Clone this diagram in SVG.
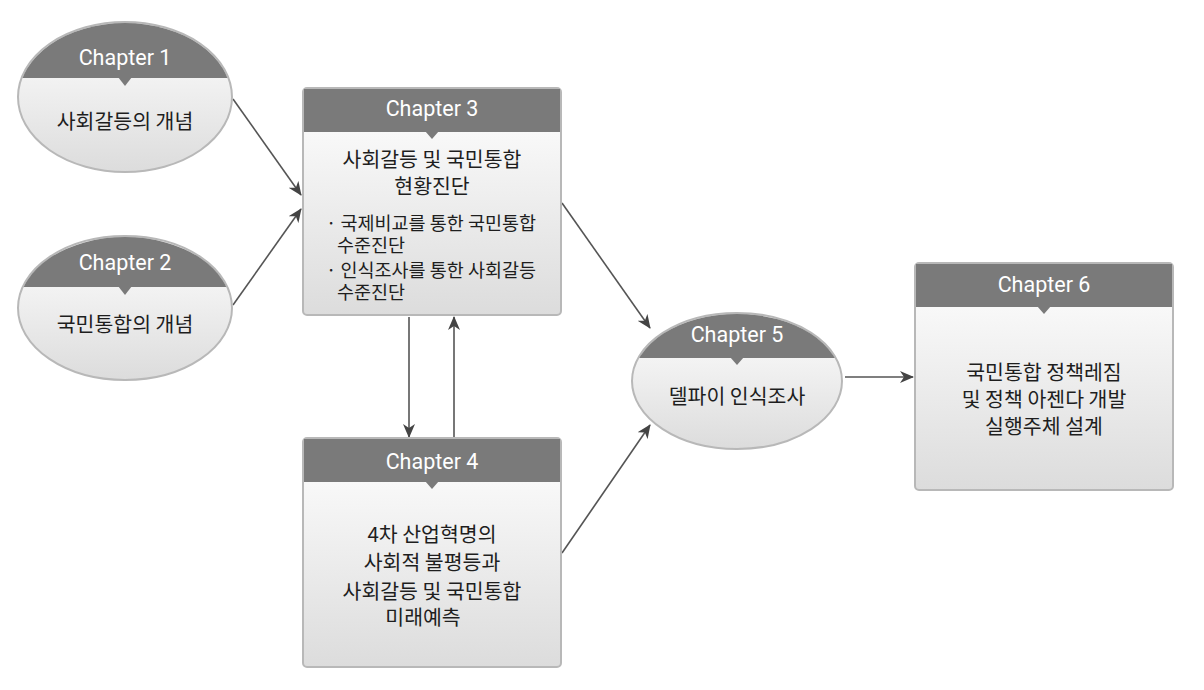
<svg xmlns="http://www.w3.org/2000/svg" width="1204" height="690" viewBox="0 0 1204 690">
<style>
.hdr{fill:#7a7a7a}
.body{fill:url(#bg);stroke:#b8b8b8;stroke-width:2}
.chap{font-family:Roboto,"Liberation Sans",sans-serif;font-size:21.5px;fill:#fff;text-anchor:middle}
.kr{font-family:"Noto Sans CJK KR","Noto Sans",sans-serif;font-size:20.5px;fill:#1e1e1e;text-anchor:middle}
.krl{font-family:"Noto Sans CJK KR","Noto Sans",sans-serif;font-size:18.5px;fill:#1e1e1e}
.con line{stroke:#555;stroke-width:1.6;fill:none;marker-end:url(#arr)}
</style>
<defs>
<linearGradient id="bg" x1="0" y1="0" x2="0" y2="1">
<stop offset="0" stop-color="#ffffff"/>
<stop offset="1" stop-color="#dcdcdc"/>
</linearGradient>
<marker id="arr" viewBox="0 0 14 12" refX="13" refY="6" markerWidth="14" markerHeight="12" markerUnits="userSpaceOnUse" orient="auto">
<path d="M0,0 L14,6 L0,12 L4,6 Z" fill="#444"/>
</marker>
<clipPath id="c1"><rect x="0" y="0" width="300" height="78"/></clipPath>
<clipPath id="c2"><rect x="0" y="200" width="300" height="87"/></clipPath>
<clipPath id="c5"><rect x="600" y="300" width="300" height="58"/></clipPath>
</defs>

<g class="con">
<line x1="233" y1="99" x2="301" y2="195"/>
<line x1="233" y1="305" x2="301" y2="209"/>
<line x1="409" y1="317" x2="409" y2="437"/>
<line x1="454" y1="437" x2="454" y2="317"/>
<line x1="562" y1="203" x2="650" y2="328"/>
<line x1="562" y1="553" x2="650" y2="425"/>
<line x1="845" y1="377" x2="913" y2="377"/>
</g>

<g id="ch1">
<ellipse class="body" cx="125" cy="97" rx="107" ry="75"/>
<ellipse class="hdr" cx="125" cy="97" rx="106" ry="74" clip-path="url(#c1)"/>
<path class="hdr" d="M118,77 L125,86 L132,77 Z"/>
<text class="chap" x="125" y="65">Chapter 1</text>
<text class="kr" x="125" y="129">사회갈등의 개념</text>
</g>

<g id="ch2">
<ellipse class="body" cx="125" cy="308" rx="107" ry="72"/>
<ellipse class="hdr" cx="125" cy="308" rx="106" ry="71" clip-path="url(#c2)"/>
<path class="hdr" d="M118,286 L125,295 L132,286 Z"/>
<text class="chap" x="125" y="270">Chapter 2</text>
<text class="kr" x="125" y="332">국민통합의 개념</text>
</g>

<g id="ch3">
<rect class="body" x="303" y="88" width="258" height="227" rx="4"/>
<rect class="hdr" x="304" y="89" width="256" height="43"/>
<path class="hdr" d="M425,131 L432,139 L439,131 Z"/>
<text class="chap" x="432" y="116">Chapter 3</text>
<text class="kr"><tspan x="432" y="167">사회갈등 및 국민통합</tspan><tspan x="432" y="194">현황진단</tspan></text>
<text class="krl"><tspan x="326" y="230">· 국제비교를 통한 국민통합</tspan><tspan x="337" y="252">수준진단</tspan><tspan x="326" y="277">· 인식조사를 통한 사회갈등</tspan><tspan x="337" y="299">수준진단</tspan></text>
</g>

<g id="ch4">
<rect class="body" x="303" y="438" width="258" height="229" rx="4"/>
<rect class="hdr" x="304" y="439" width="256" height="43"/>
<path class="hdr" d="M425,481 L432,489 L439,481 Z"/>
<text class="chap" x="432" y="469">Chapter 4</text>
<text class="kr"><tspan x="432" y="542">4차 산업혁명의</tspan><tspan x="432" y="570">사회적 불평등과</tspan><tspan x="432" y="599">사회갈등 및 국민통합</tspan><tspan x="423" y="625">미래예측</tspan></text>
</g>

<g id="ch5">
<ellipse class="body" cx="737" cy="381" rx="105" ry="68"/>
<ellipse class="hdr" cx="737" cy="381" rx="104" ry="67" clip-path="url(#c5)"/>
<path class="hdr" d="M730,357 L737,365 L744,357 Z"/>
<text class="chap" x="737" y="342">Chapter 5</text>
<text class="kr" x="737" y="404">델파이 인식조사</text>
</g>

<g id="ch6">
<rect class="body" x="915" y="263" width="258" height="227" rx="4"/>
<rect class="hdr" x="916" y="264" width="256" height="43"/>
<path class="hdr" d="M1037,306 L1044,314 L1051,306 Z"/>
<text class="chap" x="1044" y="292">Chapter 6</text>
<text class="kr"><tspan x="1044" y="380">국민통합 정책레짐</tspan><tspan x="1044" y="407">및 정책 아젠다 개발</tspan><tspan x="1044" y="434">실행주체 설계</tspan></text>
</g>
</svg>
